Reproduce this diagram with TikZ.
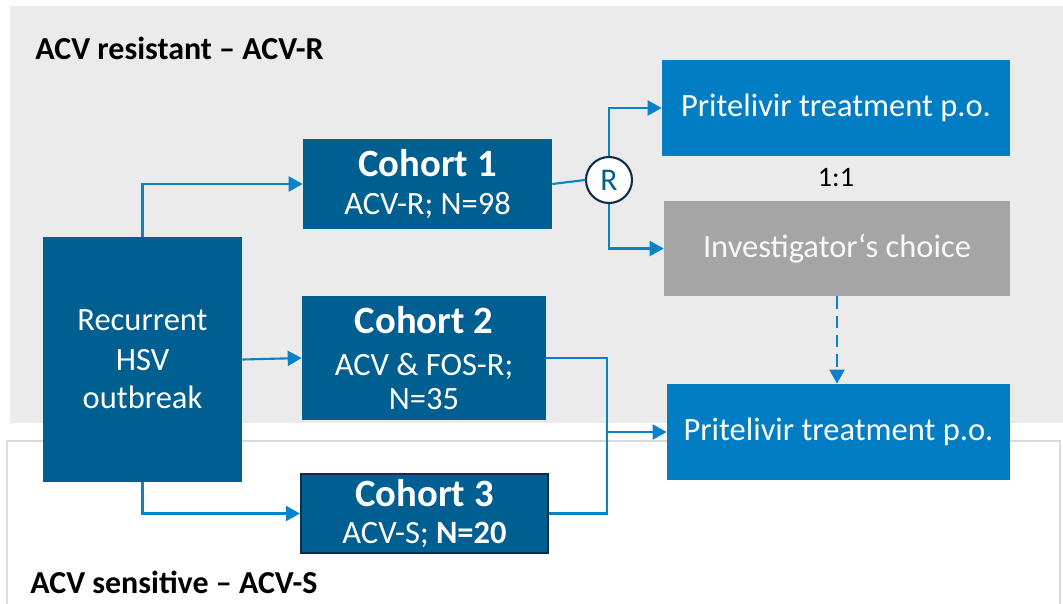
\documentclass[tikz,border=0pt]{standalone}
\usepackage{fontspec}
\setmainfont{Carlito}
\usepackage{tikz}
\usetikzlibrary{calc,positioning,arrows.meta,shapes}
\definecolor{bgGray}{RGB}{235,235,235}
\definecolor{frameGray}{RGB}{217,217,217}
\definecolor{darkBlue}{RGB}{0,95,145}
\definecolor{lightBlue}{RGB}{0,125,195}
\definecolor{lineBlue}{RGB}{10,130,200}
\definecolor{navy}{RGB}{15,45,74}
\definecolor{choiceGray}{RGB}{165,165,165}
\tikzstyle{cohort}    = [rectangle, fill=darkBlue, text=white, align=center, font=\fontsize{18.5}{22}\selectfont, inner sep=0pt]
\tikzstyle{treat}     = [rectangle, fill=lightBlue, text=white, align=center, font=\fontsize{18.5}{22}\selectfont, minimum height=1.92cm]
\tikzstyle{title}     = [anchor=west, font=\bfseries\fontsize{18.2}{20}\selectfont, inner sep=0pt]
\tikzstyle{arrow}     = [line width=1.2pt, draw=lineBlue, -{Triangle[length=0.28cm,width=0.3cm]}]
\tikzstyle{link}      = [line width=1.2pt, draw=lineBlue]
\newcommand{\head}[1]{{\bfseries\fontsize{22}{26}\selectfont #1}}

\begin{document}
\begin{tikzpicture}[x=0.02cm,y=-0.02cm]
        \useasboundingbox (0,0) rectangle (1063,603);
        % regions
        \fill[bgGray] (10,6) rectangle (1063,423);
        \draw[frameGray, line width=1.2pt] (7,620) -- (7,441) -- (1060,441) -- (1060,620);
        \node[title] (resTitle) at (35,48) {ACV resistant -- ACV-R};
        \node[title] (senTitle) at (30,582) {ACV sensitive -- ACV-S};

        % cohorts
        \node[cohort, minimum width=3.98cm, minimum height=4.9cm] (rec) at (142.5,359.5) {Recurrent\\[0.02cm]HSV\\[0cm]outbreak};
        \node[cohort, minimum width=4.98cm, minimum height=1.8cm] (c1) at (427.5,184) {\head{Cohort 1}\\[0cm]ACV-R; N=98};
        \node[cohort, minimum width=4.88cm, minimum height=2.48cm] (c2) at (424,358) {\head{Cohort 2}\\[0.06cm]ACV \& FOS-R;\\[-0.09cm]N=35};
        \node[cohort, draw=navy, line width=1.2pt, minimum width=4.94cm, minimum height=1.58cm] (c3) at (424.5,513.5) {\head{Cohort 3}\\[-0.05cm]ACV-S; \textbf{N=20}};

        % treatments
        \node[treat, minimum width=6.96cm] (p1) at (836,108) {Pritelivir treatment p.o.};
        \node[treat, fill=choiceGray, text=white!95!gray, minimum width=6.92cm, minimum height=1.9cm] (inv) at (837,248.5) {Investigator‘s choice};
        \node[treat, minimum width=6.86cm] (p2) at (838.5,432) {Pritelivir treatment p.o.};
        \node[font=\fontsize{16}{19}\selectfont] (ratio) at (836,178) {1:1};

        \node[circle, draw=navy, fill=white, line width=1.2pt, minimum size=0.92cm, inner sep=0pt, text=darkBlue, font=\fontsize{18}{20}\selectfont] (R) at (609,180) {R};
        \coordinate (mrg) at (607,432);

        % connectors
        \draw[arrow] (rec.north) |- (c1.west);
        \draw[link] (c1.east) -- (R.west);
        \draw[arrow] (R.north) |- (p1.west);
        \draw[arrow] (R.south) |- (inv.west);
        \draw[arrow] (rec.east) -- (c2.west);
        \draw[arrow] (rec.south) |- (c3.west);
        \draw[link] (c2.east) -| (mrg);
        \draw[link] (c3.east) -| (mrg);
        \draw[arrow] (mrg) -- (p2.west);
        \draw[arrow, dashed, dash pattern=on 7pt off 4pt] (inv.south) -- (inv.south |- p2.north);
\end{tikzpicture}
\end{document}
